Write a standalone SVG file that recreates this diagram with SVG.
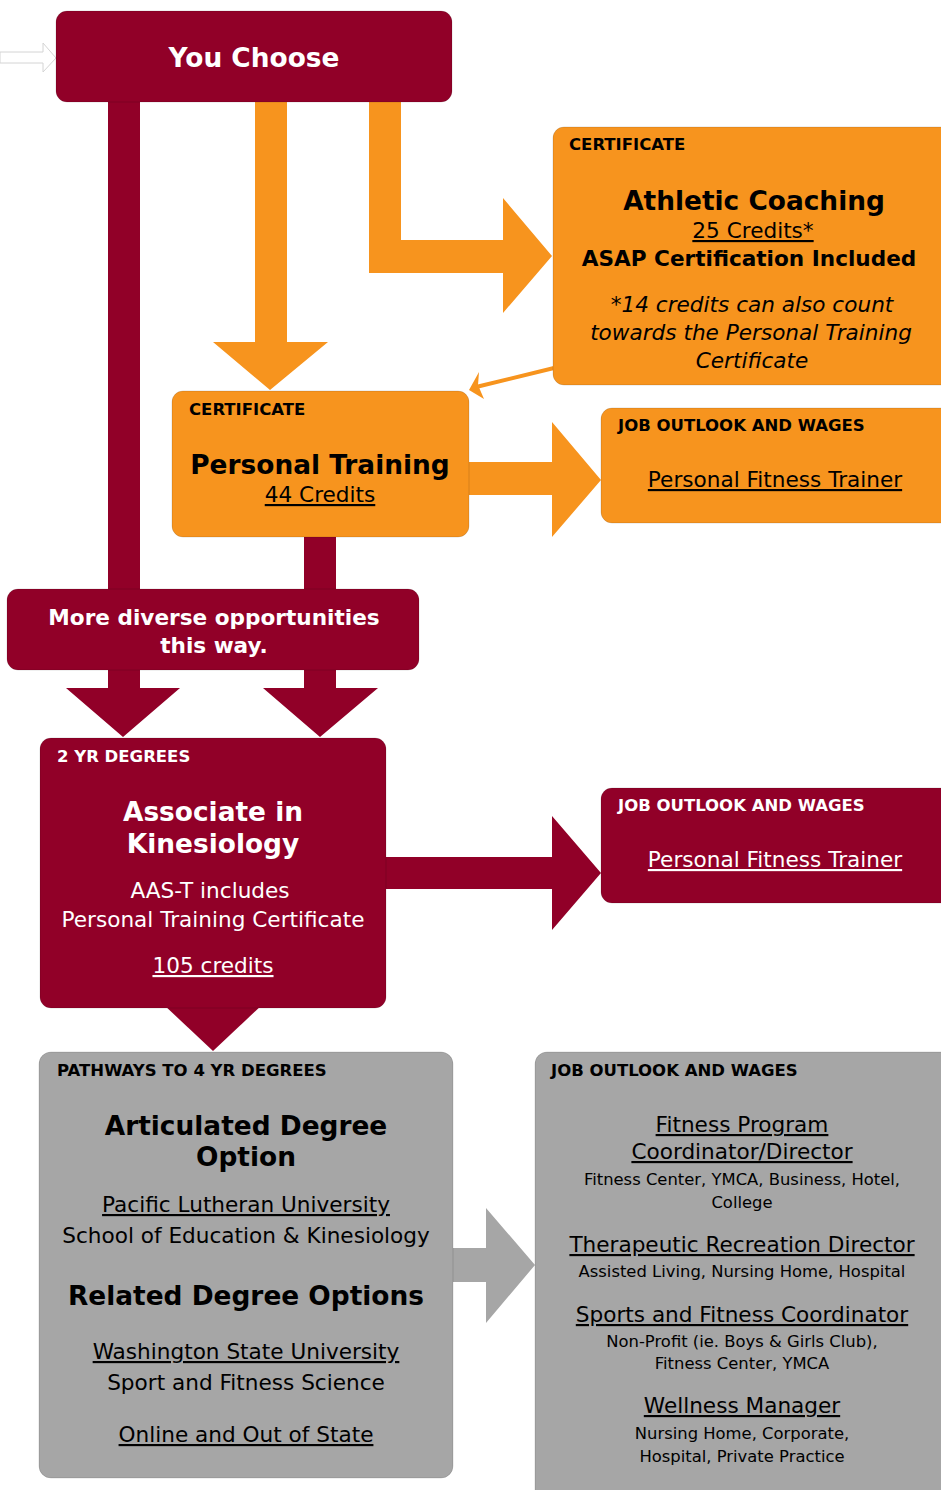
<svg xmlns="http://www.w3.org/2000/svg" width="941" height="1490" viewBox="0 0 941 1490">
<style>
text{font-family:"DejaVu Sans","Liberation Sans",sans-serif}
.m{fill:#910028}
.o{fill:#F7941E}
.g{fill:#A6A6A6}
.box{stroke:#000;stroke-opacity:0.13;stroke-width:1}
.lbl{font-size:16.5px;font-weight:bold}
.ttl{font-size:26.4px;font-weight:bold;text-anchor:middle}
.t{font-size:21.6px;text-anchor:middle}
.s{font-size:16.4px;text-anchor:middle}
.u{text-decoration:underline}
.w{fill:#fff}
.k{fill:#000}
</style>
<rect width="941" height="1490" fill="#fff"/>
<g id="connectors">
  <polygon points="0,52 43,52 43,43 56,58 43,72 43,63 0,63" fill="#fff" stroke="#d4d4d4" stroke-width="1"/>
  <polygon class="m" points="108,100 140,100 140,688 180,688 123,737 66,688 108,688"/>
  <polygon class="m" points="304,530 336,530 336,688 378,688 320,737 263,688 304,688"/>
  <polygon class="o" points="255,100 287,100 287,342 328,342 270,390 213,342 255,342"/>
  <polygon class="o" points="369,100 401,100 401,240 503,240 503,198 552,256 503,313 503,273 369,273"/>
  <line x1="554" y1="368" x2="476" y2="387" stroke="#F7941E" stroke-width="4"/>
  <path class="o" d="M469,390 L479,372 L478,385 L484,399 Z"/>
  <polygon class="o" points="465,462 552,462 552,422 601,480 552,537 552,495 465,495"/>
  <polygon class="m" points="380,857 552,857 552,816 601,873 552,930 552,889 380,889"/>
  <polygon class="m" points="163,1004 263,1004 213,1051"/>
  <polygon class="g" points="450,1248 486,1248 486,1208 535,1265 486,1323 486,1282 450,1282"/>
</g>
<g id="you-choose">
  <rect class="m box" x="56" y="11" width="396" height="91" rx="11"/>
  <text class="ttl w" x="254" y="67">You Choose</text>
</g>
<g id="athletic-coaching">
  <rect class="o box" x="553" y="127" width="400" height="258" rx="11"/>
  <text class="lbl k" x="569" y="150">CERTIFICATE</text>
  <text class="ttl k" x="754" y="210">Athletic Coaching</text>
  <text class="t k u" x="753" y="238">25 Credits*</text>
  <text class="t k" x="749" y="266" font-weight="bold">ASAP Certification Included</text>
  <text class="t k" x="752" y="312" font-style="italic">*14 credits can also count</text>
  <text class="t k" x="751" y="340" font-style="italic">towards the Personal Training</text>
  <text class="t k" x="752" y="368" font-style="italic">Certificate</text>
</g>
<g id="personal-training">
  <rect class="o box" x="172" y="391" width="297" height="146" rx="11"/>
  <text class="lbl k" x="189" y="415">CERTIFICATE</text>
  <text class="ttl k" x="320" y="474">Personal Training</text>
  <text class="t k u" x="320" y="502">44 Credits</text>
</g>
<g id="job-outlook-pt">
  <rect class="o box" x="601" y="408" width="352" height="115" rx="11"/>
  <text class="lbl k" x="618" y="431">JOB OUTLOOK AND WAGES</text>
  <text class="t k u" x="775" y="487">Personal Fitness Trainer</text>
</g>
<g id="more-diverse">
  <rect class="m box" x="7" y="589" width="412" height="81" rx="11"/>
  <text class="t w" x="214" y="625" font-weight="bold">More diverse opportunities</text>
  <text class="t w" x="214" y="653" font-weight="bold">this way.</text>
</g>
<g id="associate">
  <rect class="m box" x="40" y="738" width="346" height="270" rx="11"/>
  <text class="lbl w" x="57" y="762">2 YR DEGREES</text>
  <text class="ttl w" x="213" y="821">Associate in</text>
  <text class="ttl w" x="213" y="853">Kinesiology</text>
  <text class="t w" x="210" y="898">AAS-T includes</text>
  <text class="t w" x="213" y="927">Personal Training Certificate</text>
  <text class="t w u" x="213" y="973">105 credits</text>
</g>
<g id="job-outlook-assoc">
  <rect class="m box" x="601" y="788" width="352" height="115" rx="11"/>
  <text class="lbl w" x="618" y="811">JOB OUTLOOK AND WAGES</text>
  <text class="t w u" x="775" y="867">Personal Fitness Trainer</text>
</g>
<g id="pathways">
  <rect class="g box" x="39" y="1052" width="414" height="426" rx="12"/>
  <text class="lbl k" x="57" y="1076">PATHWAYS TO 4 YR DEGREES</text>
  <text class="ttl k" x="246" y="1135">Articulated Degree</text>
  <text class="ttl k" x="246" y="1166">Option</text>
  <text class="t k u" x="246" y="1212">Pacific Lutheran University</text>
  <text class="t k" x="246" y="1243">School of Education &amp; Kinesiology</text>
  <text class="ttl k" x="246" y="1305">Related Degree Options</text>
  <text class="t k u" x="246" y="1359">Washington State University</text>
  <text class="t k" x="246" y="1390">Sport and Fitness Science</text>
  <text class="t k u" x="246" y="1442">Online and Out of State</text>
</g>
<g id="job-outlook-4yr">
  <rect class="g box" x="535" y="1052" width="420" height="460" rx="12"/>
  <text class="lbl k" x="551" y="1076">JOB OUTLOOK AND WAGES</text>
  <text class="t k u" x="742" y="1132">Fitness Program</text>
  <text class="t k u" x="742" y="1159">Coordinator/Director</text>
  <text class="s k" x="742" y="1185">Fitness Center, YMCA, Business, Hotel,</text>
  <text class="s k" x="742" y="1208">College</text>
  <text class="t k u" x="742" y="1252">Therapeutic Recreation Director</text>
  <text class="s k" x="742" y="1277">Assisted Living, Nursing Home, Hospital</text>
  <text class="t k u" x="742" y="1322">Sports and Fitness Coordinator</text>
  <text class="s k" x="742" y="1347">Non-Profit (ie. Boys &amp; Girls Club),</text>
  <text class="s k" x="742" y="1369">Fitness Center, YMCA</text>
  <text class="t k u" x="742" y="1413">Wellness Manager</text>
  <text class="s k" x="742" y="1439">Nursing Home, Corporate,</text>
  <text class="s k" x="742" y="1462">Hospital, Private Practice</text>
</g>
</svg>
